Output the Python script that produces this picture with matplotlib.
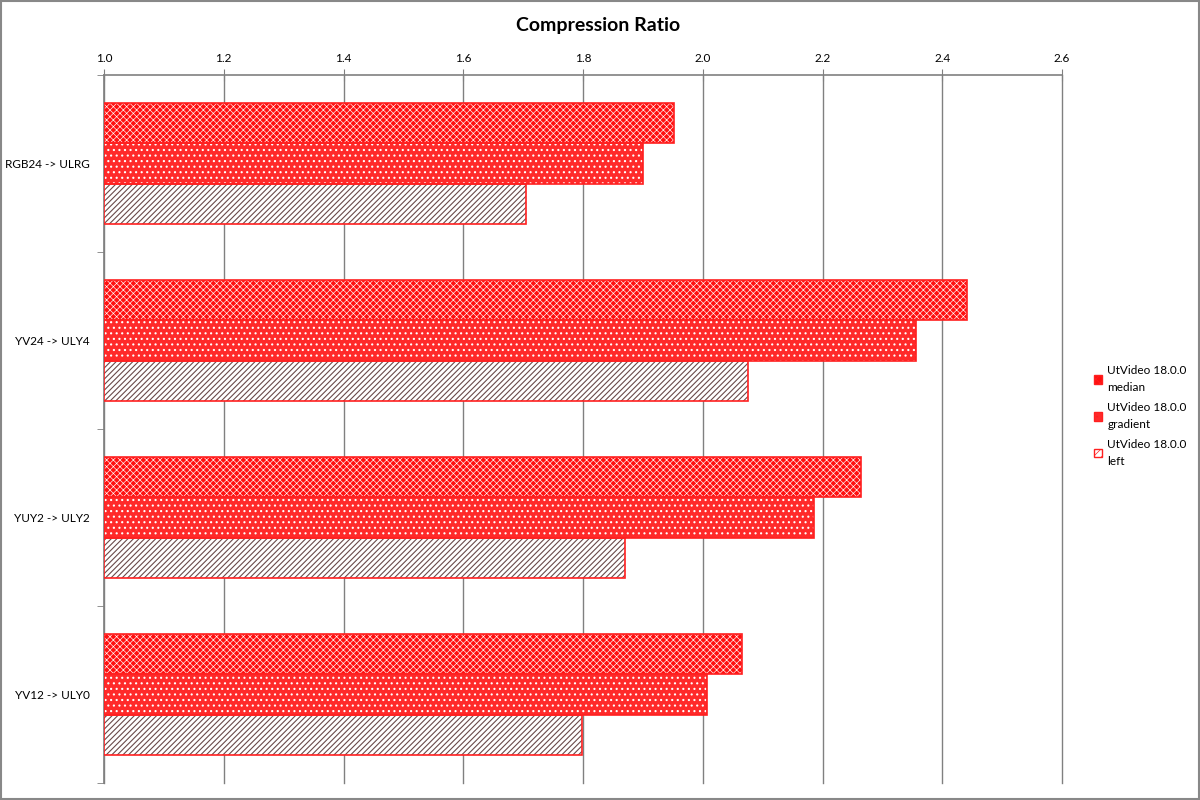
import numpy as np
import matplotlib.pyplot as plt
from matplotlib.patches import Patch, Rectangle

# data
categories = ["RGB24 -> ULRG", "YV24 -> ULY4", "YUY2 -> ULY2", "YV12 -> ULY0"]
median = [1.952, 2.442, 2.264, 2.065]
gradient = [1.900, 2.356, 2.185, 2.007]
left = [1.705, 2.075, 1.870, 1.798]
series_labels = ["UtVideo 18.0.0\nmedian", "UtVideo 18.0.0\ngradient", "UtVideo 18.0.0\nleft"]
xticks = [1.0, 1.2, 1.4, 1.6, 1.8, 2.0, 2.2, 2.4, 2.6]

plt.rcParams['font.family'] = ['Lato', 'DejaVu Sans']

fig = plt.figure(figsize=(12, 8), dpi=100)
ax = fig.add_axes([104/1200, 1-783/800, (1062-104)/1200, (783-75)/800])

y = np.arange(len(categories))
h = 0.226
base = 1.0

def hbar(vals, off, face, hcol, hatch, hlw):
    plt.rcParams['hatch.linewidth'] = hlw
    w = np.array(vals) - base
    ax.barh(y + off, w, h, left=base, color=face, edgecolor=hcol, hatch=hatch, linewidth=0, zorder=3)
    ax.barh(y + off, w, h, left=base, fill=False, edgecolor='#ff2020', linewidth=1.2, zorder=4)

hbar(median, -h, '#ff1010', 'white', 'xxxxx', 0.45)
hbar(gradient, 0, '#ff2a2a', 'white', '...', 0.8)
hbar(left, h, 'white', '#6a4a4a', '//////', 0.8)

ax.set_xlim(1.0, 2.6)
ax.set_ylim(3.5, -0.5)
ax.xaxis.tick_top()
ax.set_xticks(xticks)
ax.set_xticklabels(["%.1f" % v for v in xticks], fontsize=8.5)
ax.tick_params(axis='x', direction='inout', length=8, color='#808080', pad=4)
ax.grid(axis='x', color='#808080', linewidth=1, zorder=0, clip_on=False)

ax.set_yticks(y)
ax.set_yticklabels(categories, fontsize=8.5)
ax.set_yticks(np.arange(-0.5, 4, 1), minor=True)
ax.tick_params(axis='y', which='major', length=0, pad=10)
ax.tick_params(axis='y', which='minor', direction='out', length=5, color='#808080')

for s in ['right', 'bottom']:
    ax.spines[s].set_visible(False)
for s in ['top', 'left']:
    ax.spines[s].set_color('#808080')
    ax.spines[s].set_linewidth(1.2)

fig.text(0.4985, 0.968, "Compression Ratio", ha='center', va='center', fontsize=14, fontweight='bold')

plt.rcParams['hatch.linewidth'] = 0.5
handles = [
    Patch(facecolor='#ff1010', edgecolor='#ff2020', hatch='xxxx'),
    Patch(facecolor='#ff2a2a', edgecolor='#ff2020', hatch='...'),
    Patch(facecolor='white', edgecolor='#ff2020', hatch='////'),
]
leg = fig.legend(handles, series_labels, loc='center left', bbox_to_anchor=(0.903, 0.48),
                 frameon=False, fontsize=8.5, handlelength=0.7, handleheight=0.7,
                 handletextpad=0.4, labelspacing=0.8)
for t in leg.get_texts():
    t.set_linespacing(1.6)

fig.patches.append(Rectangle((0.001, 0.001), 0.998, 0.998, transform=fig.transFigure,
                             fill=False, edgecolor='#888888', linewidth=1.5))

fig.savefig("out.png", dpi=100)
